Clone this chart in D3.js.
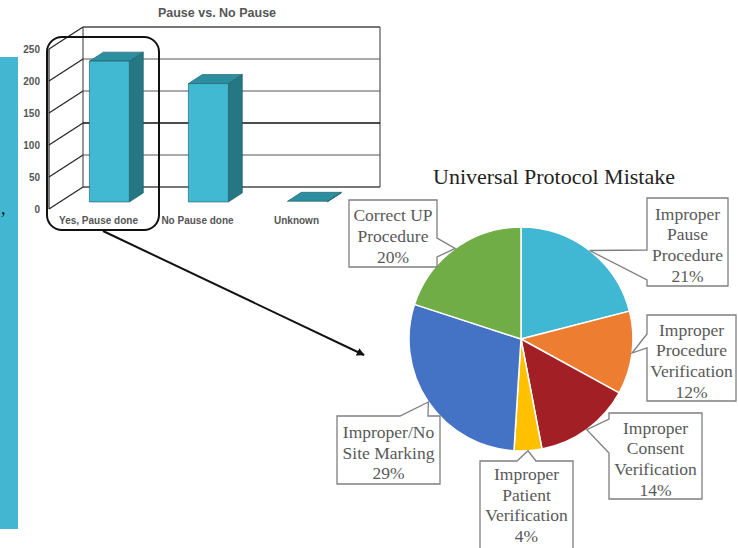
<!DOCTYPE html>
<html>
<head>
<meta charset="utf-8">
<script src="https://cdn.jsdelivr.net/npm/d3@7"></script>
<style>
  html, body { margin: 0; padding: 0; background: #fff; }
  svg { display: block; }
</style>
</head>
<body>
<svg id="chart" width="738" height="548"></svg>
<script>
// ---- Bar chart data ----
const barTitle = "Pause vs. No Pause";
const barCategories = ["Yes, Pause done", "No Pause done", "Unknown"];
const barValues = [220, 185, 1];
const barTicks = [0, 50, 100, 150, 200, 250];

// ---- Pie chart data ----
const pieTitle = "Universal Protocol Mistake";
const pieCategories = [
  "Improper Pause Procedure",
  "Improper Procedure Verification",
  "Improper Consent Verification",
  "Improper Patient Verification",
  "Improper/No Site Marking",
  "Correct UP Procedure"
];
const pieLabelLines = [
  ["Improper", "Pause", "Procedure"],
  ["Improper", "Procedure", "Verification"],
  ["Improper", "Consent", "Verification"],
  ["Improper", "Patient", "Verification"],
  ["Improper/No", "Site Marking"],
  ["Correct UP", "Procedure"]
];
const pieValues = [21, 12, 14, 4, 29, 20];
const pieColors = ["#41B8D3", "#ED7D31", "#A31F26", "#FFC000", "#4472C4", "#70AD47"];

// Callout box placement (x, y, w, h, side of the pointer, pointer base span)
const calloutBoxes = [
  { x: 647, y: 198, w: 81, h: 88, side: "left", b0: 250, b1: 280 },
  { x: 647, y: 315, w: 89, h: 86, side: "left", b0: 334, b1: 348 },
  { x: 609, y: 413, w: 93, h: 86, side: "left", b0: 419, b1: 453 },
  { x: 480, y: 461, w: 93, h: 100, side: "top", b0: 517, b1: 536 },
  { x: 337, y: 416, w: 103, h: 68, side: "top", b0: 400, b1: 428 },
  { x: 349, y: 200, w: 88, h: 67, side: "right", b0: 238, b1: 257 }
];

const svg = d3.select("#chart");

// ===== Left side panel strip =====
svg.append("rect").attr("x", 0).attr("y", 57).attr("width", 18).attr("height", 472)
  .attr("fill", "#43B7D2");
svg.append("text").attr("x", 1).attr("y", 214).text(",")
  .attr("font-family", "Liberation Serif").attr("font-size", 18).attr("fill", "#111");

// ===== 3D bar chart =====
const DX = 34, DY = -22;          // depth offset of the plot box
const D0 = 0.32, D1 = 0.73;       // bar front/back depth fractions
const barW = 40;
const y = d3.scaleLinear().domain([0, 250]).range([209, 49]);
const x = d3.scalePoint().domain(barCategories).range([49, 346]).padding(0.5);
const x0 = 49, x1 = 346;
const P = (xf, v, d) => [xf + d * DX, y(v) + d * DY];
const poly = pts => "M" + pts.map(p => p.join(",")).join("L") + "Z";

const bar = svg.append("g");
const gridColor = "#333";

// back wall
bar.append("path")
  .attr("d", poly([P(x0, 0, 1), P(x1, 0, 1), P(x1, 250, 1), P(x0, 250, 1)]))
  .attr("fill", "#fff").attr("stroke", gridColor).attr("stroke-width", 1);

// gridlines on back wall and side wall
barTicks.forEach(t => {
  bar.append("line")
    .attr("x1", P(x0, t, 1)[0]).attr("y1", P(x0, t, 1)[1])
    .attr("x2", P(x1, t, 1)[0]).attr("y2", P(x1, t, 1)[1])
    .attr("stroke", t === 100 ? "#111" : "#555").attr("stroke-width", t === 100 ? 1.4 : 1);
  bar.append("line")
    .attr("x1", P(x0, t, 0)[0]).attr("y1", P(x0, t, 0)[1])
    .attr("x2", P(x0, t, 1)[0]).attr("y2", P(x0, t, 1)[1])
    .attr("stroke", "#222").attr("stroke-width", 1.2);
});
// front vertical axis
bar.append("line")
  .attr("x1", x0).attr("y1", y(0)).attr("x2", x0).attr("y2", y(250))
  .attr("stroke", "#222").attr("stroke-width", 1.2);

// tick labels
bar.selectAll("text.tick").data(barTicks).enter().append("text")
  .attr("class", "tick")
  .attr("x", 40).attr("y", d => y(d) + 3.5)
  .attr("text-anchor", "end")
  .attr("font-family", "Liberation Sans").attr("font-weight", "bold")
  .attr("font-size", 10).attr("fill", "#555")
  .text(d => d);

// bars
barCategories.forEach((c, i) => {
  const v = barValues[i];
  const xl = x(c) - barW / 2, xr = x(c) + barW / 2;
  bar.append("path")
    .attr("d", poly([P(xr, 0, D0), P(xr, 0, D1), P(xr, v, D1), P(xr, v, D0)]))
    .attr("fill", "#257784").attr("stroke", "#1d5560").attr("stroke-width", 0.6);
  bar.append("path")
    .attr("d", poly([P(xl, v, D0), P(xr, v, D0), P(xr, v, D1), P(xl, v, D1)]))
    .attr("fill", "#2B8FA0").attr("stroke", "#1d5560").attr("stroke-width", 0.6);
  if (v > 2) {
    bar.append("path")
      .attr("d", poly([P(xl, 0, D0), P(xr, 0, D0), P(xr, v, D0), P(xl, v, D0)]))
      .attr("fill", "#41B9D3").attr("stroke", "#1d5560").attr("stroke-width", 0.6);
  }
});

// category labels
bar.selectAll("text.cat").data(barCategories).enter().append("text")
  .attr("class", "cat")
  .attr("x", d => x(d)).attr("y", 224)
  .attr("text-anchor", "middle")
  .attr("font-family", "Liberation Sans").attr("font-weight", "bold")
  .attr("font-size", 10).attr("fill", "#555")
  .text(d => d);

// title
bar.append("text")
  .attr("x", 217).attr("y", 16.5)
  .attr("text-anchor", "middle")
  .attr("font-family", "Liberation Sans").attr("font-weight", "bold")
  .attr("font-size", 12.5).attr("fill", "#555")
  .text(barTitle);

// highlight frame around the first bar
svg.append("rect")
  .attr("x", 47).attr("y", 37).attr("width", 112).attr("height", 193)
  .attr("rx", 15).attr("ry", 15)
  .attr("fill", "none").attr("stroke", "#111").attr("stroke-width", 2);

// arrow from the highlighted bar to the pie
svg.append("defs").append("marker")
  .attr("id", "head").attr("viewBox", "0 0 10 10")
  .attr("refX", 9).attr("refY", 5)
  .attr("markerWidth", 4).attr("markerHeight", 4)
  .attr("orient", "auto")
  .append("path").attr("d", "M0,0L10,5L0,10Z").attr("fill", "#111");
svg.append("line")
  .attr("x1", 103).attr("y1", 231).attr("x2", 364).attr("y2", 355)
  .attr("stroke", "#111").attr("stroke-width", 2)
  .attr("marker-end", "url(#head)");

// ===== Pie chart =====
const cx = 521, cy = 339, R = 112;
const pie = d3.pie().sort(null).value(d => d)(pieValues);
const arc = d3.arc().innerRadius(0).outerRadius(R);
const pg = svg.append("g").attr("transform", `translate(${cx},${cy})`);
pg.selectAll("path").data(pie).enter().append("path")
  .attr("d", arc)
  .attr("fill", (d, i) => pieColors[i])
  .attr("stroke", "#fff").attr("stroke-width", 1.5);

svg.append("text")
  .attr("x", 554).attr("y", 184)
  .attr("text-anchor", "middle")
  .attr("font-family", "Liberation Serif")
  .attr("font-size", 22).attr("fill", "#222")
  .text(pieTitle);

function calloutPath(b, tip) {
  const L = b.x, T = b.y, Rr = b.x + b.w, B = b.y + b.h;
  const pts = [[L, T]];
  if (b.side === "top") pts.push([b.b0, T], tip, [b.b1, T]);
  pts.push([Rr, T]);
  if (b.side === "right") pts.push([Rr, b.b0], tip, [Rr, b.b1]);
  pts.push([Rr, B], [L, B]);
  if (b.side === "left") pts.push([L, b.b1], tip, [L, b.b0]);
  return "M" + pts.map(p => p.join(",")).join("L") + "Z";
}

const labels = svg.append("g");
pie.forEach((d, i) => {
  const mid = (d.startAngle + d.endAngle) / 2;
  const tip = [cx + R * Math.sin(mid), cy - R * Math.cos(mid)];
  const b = calloutBoxes[i];
  labels.append("path")
    .attr("d", calloutPath(b, tip))
    .attr("fill", "#fff").attr("stroke", "#7f7f7f").attr("stroke-width", 1.3)
    .attr("stroke-linejoin", "miter");
  const lines = pieLabelLines[i].concat([pieValues[i] + "%"]);
  const t = labels.append("text")
    .attr("text-anchor", "middle")
    .attr("font-family", "Liberation Serif")
    .attr("font-size", 17.5).attr("fill", "#595959");
  const lh = 20.7;
  const startY = i === 3 ? b.y + 19 : b.y + (b.h - lines.length * lh) / 2 + 19;
  lines.forEach((ln, k) => {
    t.append("tspan").attr("x", b.x + b.w / 2).attr("y", startY + k * lh).text(ln);
  });
});
</script>
</body>
</html>
